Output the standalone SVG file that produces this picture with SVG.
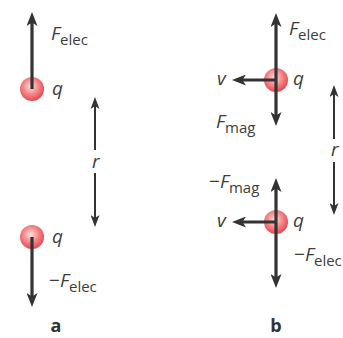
<svg xmlns="http://www.w3.org/2000/svg" width="343" height="338" viewBox="0 0 343 338">
<style>
.lbl{font-family:"Open Sans","Noto Sans",sans-serif;font-size:19px;font-style:italic;fill:#3d3d3d}
.sub{font-style:normal;font-size:15px}
.min{font-style:normal}
.pan{font-family:"Open Sans","Noto Sans",sans-serif;font-size:18px;font-weight:bold;fill:#333;text-anchor:middle}
.force{stroke:#333;stroke-width:3.2;fill:none;marker-end:url(#ah)}
.dist{stroke:#333;stroke-width:2;fill:none;marker-end:url(#ahs)}
.ball{fill:url(#bg)}
</style>
<defs>
<marker id="ah" markerUnits="userSpaceOnUse" markerWidth="14" markerHeight="11" viewBox="0 0 14 11" refX="4" refY="5.5" orient="auto">
<path d="M14 5.5 L0 0 L3.5 5.5 L0 11 Z" fill="#333"/>
</marker>
<marker id="ahs" markerUnits="userSpaceOnUse" markerWidth="12" markerHeight="9" viewBox="0 0 12 9" refX="4" refY="4.5" orient="auto">
<path d="M12 4.5 L0 0 L3 4.5 L0 9 Z" fill="#333"/>
</marker>
<radialGradient id="bg" cx="0.45" cy="0.4" r="0.6">
<stop offset="0" stop-color="#fde0e0"/>
<stop offset="0.5" stop-color="#f68c8e"/>
<stop offset="1" stop-color="#e5484f"/>
</radialGradient>
</defs>

<g id="charge-a1"><circle class="ball" cx="32" cy="89" r="12"/></g>
<g id="charge-a2"><circle class="ball" cx="32" cy="237" r="12"/></g>
<g id="charge-b1"><circle class="ball" cx="276" cy="80" r="12"/></g>
<g id="charge-b2"><circle class="ball" cx="276" cy="222" r="12"/></g>

<g id="connectors">
<line class="force" x1="32" y1="89" x2="32" y2="22"/>
<line class="force" x1="32" y1="237" x2="32" y2="297"/>
<line class="dist" x1="95" y1="150" x2="95" y2="105"/>
<line class="dist" x1="95" y1="173" x2="95" y2="219"/>
<line class="force" x1="276" y1="80" x2="276" y2="23"/>
<line class="force" x1="276" y1="80" x2="276" y2="116"/>
<line class="force" x1="276" y1="80" x2="242" y2="80"/>
<line class="force" x1="276" y1="222" x2="276" y2="188"/>
<line class="force" x1="276" y1="222" x2="276" y2="278"/>
<line class="force" x1="276" y1="222" x2="242" y2="222"/>
<line class="dist" x1="334" y1="139" x2="334" y2="93"/>
<line class="dist" x1="334" y1="162" x2="334" y2="207"/>
</g>

<g id="labels-a">
<text class="lbl" x="51" y="40">F<tspan class="sub" dy="5">elec</tspan></text>
<text class="lbl" x="52" y="95">q</text>
<text class="lbl" x="92" y="168">r</text>
<text class="lbl" x="52" y="243">q</text>
<text class="lbl" x="49" y="287"><tspan class="min">−</tspan>F<tspan class="sub" dy="5">elec</tspan></text>
<text class="pan" x="56" y="332">a</text>
</g>
<g id="labels-b">
<text class="lbl" x="289" y="35">F<tspan class="sub" dy="5">elec</tspan></text>
<text class="lbl" x="293" y="85">q</text>
<text class="lbl" x="217" y="85">v</text>
<text class="lbl" x="216" y="128">F<tspan class="sub" dy="5">mag</tspan></text>
<text class="lbl" x="331" y="156">r</text>
<text class="lbl" x="209" y="188"><tspan class="min">−</tspan>F<tspan class="sub" dy="5">mag</tspan></text>
<text class="lbl" x="217" y="227">v</text>
<text class="lbl" x="293" y="227">q</text>
<text class="lbl" x="294" y="261"><tspan class="min">−</tspan>F<tspan class="sub" dy="5">elec</tspan></text>
<text class="pan" x="276" y="332">b</text>
</g>
</svg>
